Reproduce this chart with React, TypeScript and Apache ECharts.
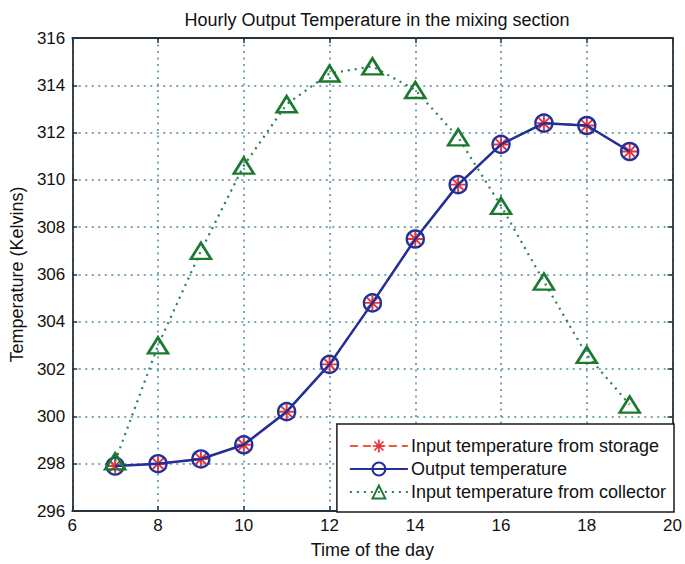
import React, { useEffect, useRef } from "react";
import * as echarts from "echarts";

const hours = [7, 8, 9, 10, 11, 12, 13, 14, 15, 16, 17, 18, 19];
const storageTemp = [297.9, 298.0, 298.2, 298.8, 300.2, 302.2, 304.8, 307.5, 309.8, 311.5, 312.4, 312.3, 311.2];
const outputTemp = [297.9, 298.0, 298.2, 298.8, 300.2, 302.2, 304.8, 307.5, 309.8, 311.5, 312.4, 312.3, 311.2];
const collectorTemp = [298.1, 303.0, 307.0, 310.6, 313.2, 314.5, 314.8, 313.8, 311.8, 308.9, 305.7, 302.6, 300.5];

const titleText = "Hourly Output Temperature in the mixing section";
const xName = "Time of the day";
const yName = "Temperature (Kelvins)";
const seriesNames = [
  "Input temperature from storage",
  "Output temperature",
  "Input temperature from collector",
];

const STAR =
  "path://M-1.3,-10L1.3,-10L1.3,10L-1.3,10Z M-10,1.3L-10,-1.3L10,-1.3L10,1.3Z M-8,-6.2L-6.2,-8L8,6.2L6.2,8Z M6.2,-8L8,-6.2L-6.2,8L-8,6.2Z";

const FONT = "'Liberation Sans', Arial, sans-serif";

export default function App() {
  const ref = useRef<HTMLDivElement>(null);
  useEffect(() => {
    if (!ref.current) return;
    const chart = echarts.init(ref.current, undefined, { renderer: "svg" });
    const axisColor = "#26333c";
    const gridLine = { show: true, lineStyle: { color: "#4f8aa0", width: 1.5, type: [2, 4.5] as any } };
    const pair = (vals: number[]) => hours.map((h, i) => [h, vals[i]]);
    chart.setOption({
      animation: false,
      backgroundColor: "#ffffff",
      textStyle: { fontFamily: FONT },
      title: {
        text: titleText,
        left: 372,
        textAlign: "center",
        top: 6,
        textStyle: { fontFamily: FONT, fontSize: 18, fontWeight: "normal", color: "#111" },
      },
      grid: { left: 70, right: 11, top: 38, bottom: 52, containLabel: false },
      legend: {
        orient: "vertical",
        right: 11,
        bottom: 52,
        itemWidth: 58,
        itemHeight: 16,
        itemGap: 5,
        padding: [13, 8, 11, 12],
        backgroundColor: "#ffffff",
        borderColor: "#1a1a1a",
        borderWidth: 1.5,
        borderRadius: 0,
        textStyle: { fontFamily: FONT, fontSize: 18, color: "#111", padding: [0, 0, 0, -2] },
        data: seriesNames,
      },
      xAxis: [
        {
          type: "value",
          min: 6,
          max: 20,
          interval: 2,
          name: xName,
          nameLocation: "middle",
          nameGap: 30,
          nameTextStyle: { fontFamily: FONT, fontSize: 18, color: "#111" },
          axisLine: { show: true, onZero: false, lineStyle: { color: axisColor, width: 1.8 } },
          axisTick: { show: true, inside: true, length: 5, lineStyle: { color: axisColor, width: 1.5 } },
          axisLabel: { fontFamily: FONT, fontSize: 17, color: "#111", margin: 6 },
          splitLine: gridLine,
        },
        {
          type: "value",
          position: "top",
          min: 6,
          max: 20,
          interval: 2,
          axisLine: { show: true, onZero: false, lineStyle: { color: axisColor, width: 1.8 } },
          axisTick: { show: true, inside: true, length: 5, lineStyle: { color: axisColor, width: 1.5 } },
          axisLabel: { show: false },
          splitLine: { show: false },
        },
      ],
      yAxis: [
        {
          type: "value",
          min: 296,
          max: 316,
          interval: 2,
          name: yName,
          nameLocation: "middle",
          nameGap: 46,
          nameRotate: 90,
          nameTextStyle: { fontFamily: FONT, fontSize: 18, color: "#111" },
          axisLine: { show: true, onZero: false, lineStyle: { color: axisColor, width: 1.8 } },
          axisTick: { show: true, inside: true, length: 5, lineStyle: { color: axisColor, width: 1.5 } },
          axisLabel: { fontFamily: FONT, fontSize: 17, color: "#111", margin: 7 },
          splitLine: gridLine,
        },
        {
          type: "value",
          position: "right",
          min: 296,
          max: 316,
          interval: 2,
          axisLine: { show: true, onZero: false, lineStyle: { color: axisColor, width: 1.8 } },
          axisTick: { show: true, inside: true, length: 5, lineStyle: { color: axisColor, width: 1.5 } },
          axisLabel: { show: false },
          splitLine: { show: false },
        },
      ],
      series: [
        {
          name: seriesNames[0],
          type: "line",
          data: pair(storageTemp),
          symbol: STAR,
          symbolSize: 15,
          itemStyle: { color: "#e8343a" },
          lineStyle: { color: "#ec5a3a", width: 2, type: [8, 5] as any },
          z: 2,
        },
        {
          name: seriesNames[1],
          type: "line",
          data: pair(outputTemp),
          symbol: "circle",
          symbolSize: 17,
          itemStyle: { color: "rgba(0,0,0,0)", borderColor: "#22309a", borderWidth: 2.4 },
          lineStyle: { color: "#22309a", width: 2.5 },
          z: 3,
        },
        {
          name: seriesNames[2],
          type: "line",
          data: pair(collectorTemp),
          symbol: "triangle",
          symbolSize: [20, 16],
          itemStyle: { color: "rgba(255,255,255,0)", borderColor: "#1b7a2f", borderWidth: 2.6 },
          lineStyle: { color: "#2e7d5b", width: 2.2, type: [2, 5] as any },
          z: 4,
        },
      ],
    });
    return () => chart.dispose();
  }, []);
  return <div ref={ref} style={{ width: 685, height: 564, position: "absolute", left: 0, top: 0 }} />;
}
